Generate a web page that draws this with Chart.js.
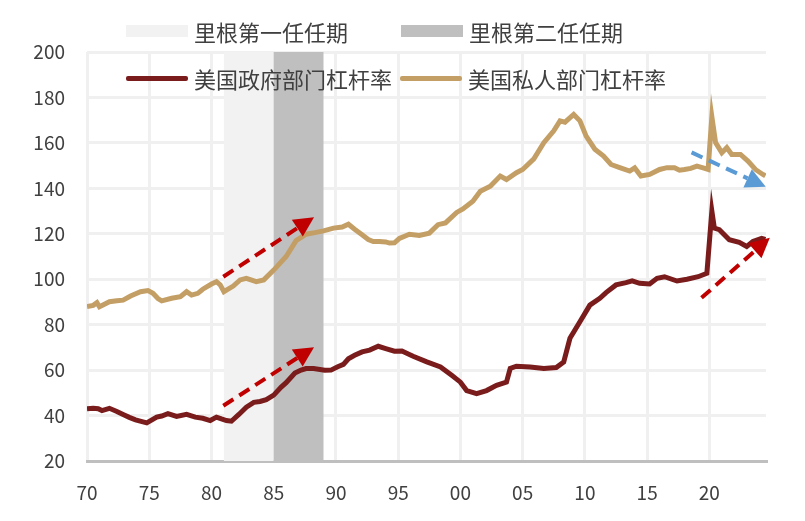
<!DOCTYPE html>
<html>
<head>
<meta charset="utf-8">
<script src="https://cdn.jsdelivr.net/npm/chart.js@4"></script>
<style>
  body { margin: 0; background: #fff; }
  #wrap { position: relative; width: 805px; height: 521px; }
  .item { position: absolute; display: flex; align-items: center; font-family: "Noto Sans CJK SC"; font-size: 22px; color: #404040; white-space: nowrap; }
  .box { width: 62px; height: 12px; margin-right: 6px; }
  .ln { width: 62px; height: 5px; margin-right: 6px; border-radius: 2px; }
</style>
</head>
<body>
<div id="wrap">
  <canvas id="myChart" width="805" height="521"></canvas>
  <div class="item" style="left:126px; top:15px;"><span class="box" style="background:#f2f2f2"></span>里根第一任任期</div>
  <div class="item" style="left:401px; top:15px;"><span class="box" style="background:#bfbfbf"></span>里根第二任任期</div>
  <div class="item" style="left:126px; top:62px;"><span class="ln" style="background:#7a1c1c"></span>美国政府部门杠杆率</div>
  <div class="item" style="left:400px; top:62px;"><span class="ln" style="background:#c49f65"></span>美国私人部门杠杆率</div>
</div>
<script>
const ctx = document.getElementById('myChart').getContext('2d')

const govYears = [1970, 1970.5, 1970.9, 1971.2, 1971.8, 1972.4, 1972.9, 1973.4, 1973.9, 1974.8, 1975.6, 1976, 1976.5, 1977.2, 1978, 1978.7, 1979.3, 1979.9, 1980.4, 1980.8, 1981.2, 1981.6, 1982.2, 1982.8, 1983.4, 1983.9, 1984.4, 1985, 1985.6, 1986, 1986.7, 1987.2, 1987.6, 1988.2, 1989.1, 1989.6, 1990.1, 1990.6, 1991, 1991.5, 1992.1, 1992.7, 1993.4, 1994, 1994.7, 1995.3, 1996.2, 1997.3, 1998.4, 1999.3, 2000, 2000.5, 2001.3, 2002.1, 2002.9, 2003.7, 2004, 2004.5, 2005.6, 2006.7, 2007.7, 2008.3, 2008.8, 2009.6, 2010.4, 2011.2, 2011.7, 2012.5, 2013.3, 2013.8, 2014.4, 2015.2, 2015.8, 2016.4, 2017.4, 2018.2, 2019.1, 2019.8, 2020.2, 2020.4, 2020.8, 2021.6, 2022.4, 2023, 2023.5, 2024.2, 2024.5]
const govValues = [43, 43.2, 43, 42.2, 43.2, 41.8, 40.5, 39.2, 38.1, 36.8, 39.3, 39.8, 40.8, 39.6, 40.5, 39.3, 38.8, 37.8, 39.3, 38.5, 37.8, 37.5, 40.5, 43.7, 45.8, 46.2, 47, 49, 52.5, 54.5, 58.7, 60, 60.7, 60.7, 59.9, 60, 61.4, 62.5, 65, 66.5, 68, 68.8, 70.5, 69.5, 68.3, 68.4, 66.1, 63.6, 61.4, 57.7, 54.7, 51, 49.6, 51, 53.3, 54.7, 60.7, 61.7, 61.4, 60.7, 61.1, 63.6, 74, 81.3, 88.6, 91.6, 94.1, 97.5, 98.5, 99.3, 98.2, 97.9, 100.4, 101.1, 99.2, 100, 101.1, 102.6, 130, 122.5, 121.8, 117.4, 116.2, 114.4, 116.6, 118, 117.5]

const privYears = [1970, 1970.5, 1970.8, 1971, 1971.4, 1971.8, 1972.4, 1972.9, 1973.5, 1974.3, 1974.9, 1975.3, 1975.7, 1976, 1976.8, 1977.5, 1978, 1978.4, 1978.9, 1979.3, 1980, 1980.4, 1980.7, 1981, 1981.3, 1981.75, 1982.3, 1982.8, 1983.6, 1984.2, 1985, 1986, 1986.8, 1987.6, 1988.3, 1989, 1989.8, 1990.5, 1991, 1991.5, 1992.1, 1992.6, 1993, 1993.5, 1994, 1994.3, 1994.7, 1995.1, 1995.9, 1996.7, 1997.5, 1998.2, 1998.8, 1999.7, 2000.2, 2001, 2001.6, 2002.4, 2003.2, 2003.7, 2004.5, 2005, 2005.9, 2006.7, 2007.5, 2008, 2008.4, 2009.1, 2009.6, 2010.1, 2010.8, 2011.5, 2012.1, 2012.8, 2013.6, 2014, 2014.5, 2015.2, 2016, 2016.6, 2017.2, 2017.6, 2018, 2018.5, 2019, 2019.5, 2019.9, 2020.2, 2020.5, 2021, 2021.4, 2021.8, 2022.5, 2023.1, 2023.7, 2024.3, 2024.5]
const privValues = [88, 88.5, 89.7, 87.9, 89, 90.1, 90.5, 90.8, 92.6, 94.5, 95, 93.8, 91.5, 90.5, 91.6, 92.3, 94.5, 93, 93.8, 95.6, 97.9, 98.9, 97.5, 94.5, 95.5, 97, 99.7, 100.4, 98.9, 99.7, 104, 110, 117, 119.8, 120.5, 121.3, 122.5, 123, 124.2, 122, 119.6, 117.5, 116.6, 116.6, 116.4, 115.9, 116, 118, 119.8, 119.3, 120.3, 124, 124.8, 129.4, 130.9, 134.3, 138.7, 140.9, 145.4, 143.9, 146.9, 148.3, 153, 160.1, 165.3, 169.7, 169.1, 172.5, 169.7, 163, 157.2, 154.2, 150.5, 149.1, 147.6, 149, 145.4, 146.1, 148.3, 149.1, 149.1, 148, 148.3, 148.8, 149.8, 149, 148.3, 171.5, 160.1, 155.7, 157.9, 154.9, 154.9, 152, 148.3, 146.1, 145.5]

const xTicks = [1970, 1975, 1980, 1985, 1990, 1995, 2000, 2005, 2010, 2015, 2020]
const terms = [[1981, 1985, '#f2f2f2'], [1985, 1989, '#bfbfbf']]
// arrows: [x0, y0, x1, y1, colour]
const arrows = [
  [1980.95, 101.1, 1988.24, 127.3, '#c00000'],
  [1980.95, 44.3, 1988.24, 70.1, '#c00000'],
  [2018.57, 155.8, 2024.53, 140.7, '#5b9bd5'],
  [2019.37, 91.8, 2024.86, 118.3, '#c00000']
]

function pts(xs, ys) {
  return xs.map((x, i) => ({ x: x, y: ys[i] }))
}

const termShade = {
  id: 'termShade',
  beforeDatasetsDraw(chart) {
    const x = chart.scales.x
    const a = chart.chartArea
    const c = chart.ctx
    c.save()
    terms.forEach(t => {
      const x0 = x.getPixelForValue(t[0])
      const x1 = x.getPixelForValue(t[1])
      c.fillStyle = t[2]
      c.fillRect(x0, a.top, x1 - x0, a.bottom - a.top)
    })
    c.restore()
  }
}

const arrowDraw = {
  id: 'arrowDraw',
  afterDatasetsDraw(chart) {
    const x = chart.scales.x
    const y = chart.scales.y
    const c = chart.ctx
    arrows.forEach(ar => {
      const x0 = x.getPixelForValue(ar[0]), y0 = y.getPixelForValue(ar[1])
      const x1 = x.getPixelForValue(ar[2]), y1 = y.getPixelForValue(ar[3])
      const ang = Math.atan2(y1 - y0, x1 - x0)
      const head = 20
      const bx = x1 - head * Math.cos(ang), by = y1 - head * Math.sin(ang)
      c.save()
      c.strokeStyle = ar[4]
      c.fillStyle = ar[4]
      c.lineWidth = 4
      c.setLineDash([12, 7])
      c.beginPath()
      c.moveTo(x0, y0)
      c.lineTo(bx, by)
      c.stroke()
      c.setLineDash([])
      c.beginPath()
      c.moveTo(x1, y1)
      c.lineTo(bx + 10 * Math.sin(ang), by - 10 * Math.cos(ang))
      c.lineTo(bx - 10 * Math.sin(ang), by + 10 * Math.cos(ang))
      c.closePath()
      c.fill()
      c.restore()
    })
  }
}

const myChart = new Chart(ctx, {
  type: 'line',
  data: {
    datasets: [{
      label: '美国政府部门杠杆率',
      data: pts(govYears, govValues),
      borderColor: '#7a1c1c',
      borderWidth: 5,
      pointRadius: 0,
      tension: 0
    }, {
      label: '美国私人部门杠杆率',
      data: pts(privYears, privValues),
      borderColor: '#c49f65',
      borderWidth: 5,
      pointRadius: 0,
      tension: 0
    }]
  },
  options: {
    responsive: false,
    animation: false,
    layout: { padding: { top: 52, right: 39, left: 0, bottom: 0 } },
    plugins: { legend: { display: false }, tooltip: { enabled: false } },
    scales: {
      x: {
        type: 'linear',
        min: 1970,
        max: 2024.55,
        afterBuildTicks: s => { s.ticks = xTicks.map(v => ({ value: v })) },
        afterFit: s => { s.height = 60 },
        grid: { color: '#f0f0f0', lineWidth: 3, drawTicks: false },
        border: { color: '#bfbfbf', width: 3 },
        ticks: {
          padding: 20,
          color: '#404040',
          font: { family: 'Noto Sans CJK SC', size: 19 },
          callback: v => String(v % 100).padStart(2, '0')
        }
      },
      y: {
        min: 20,
        max: 200,
        afterFit: s => { s.width = 87 },
        grid: { color: '#f0f0f0', lineWidth: 3, drawTicks: false },
        border: { display: false },
        ticks: {
          stepSize: 20,
          padding: 22,
          color: '#404040',
          font: { family: 'Noto Sans CJK SC', size: 19 }
        }
      }
    }
  },
  plugins: [termShade, arrowDraw]
})
</script>
</body>
</html>
